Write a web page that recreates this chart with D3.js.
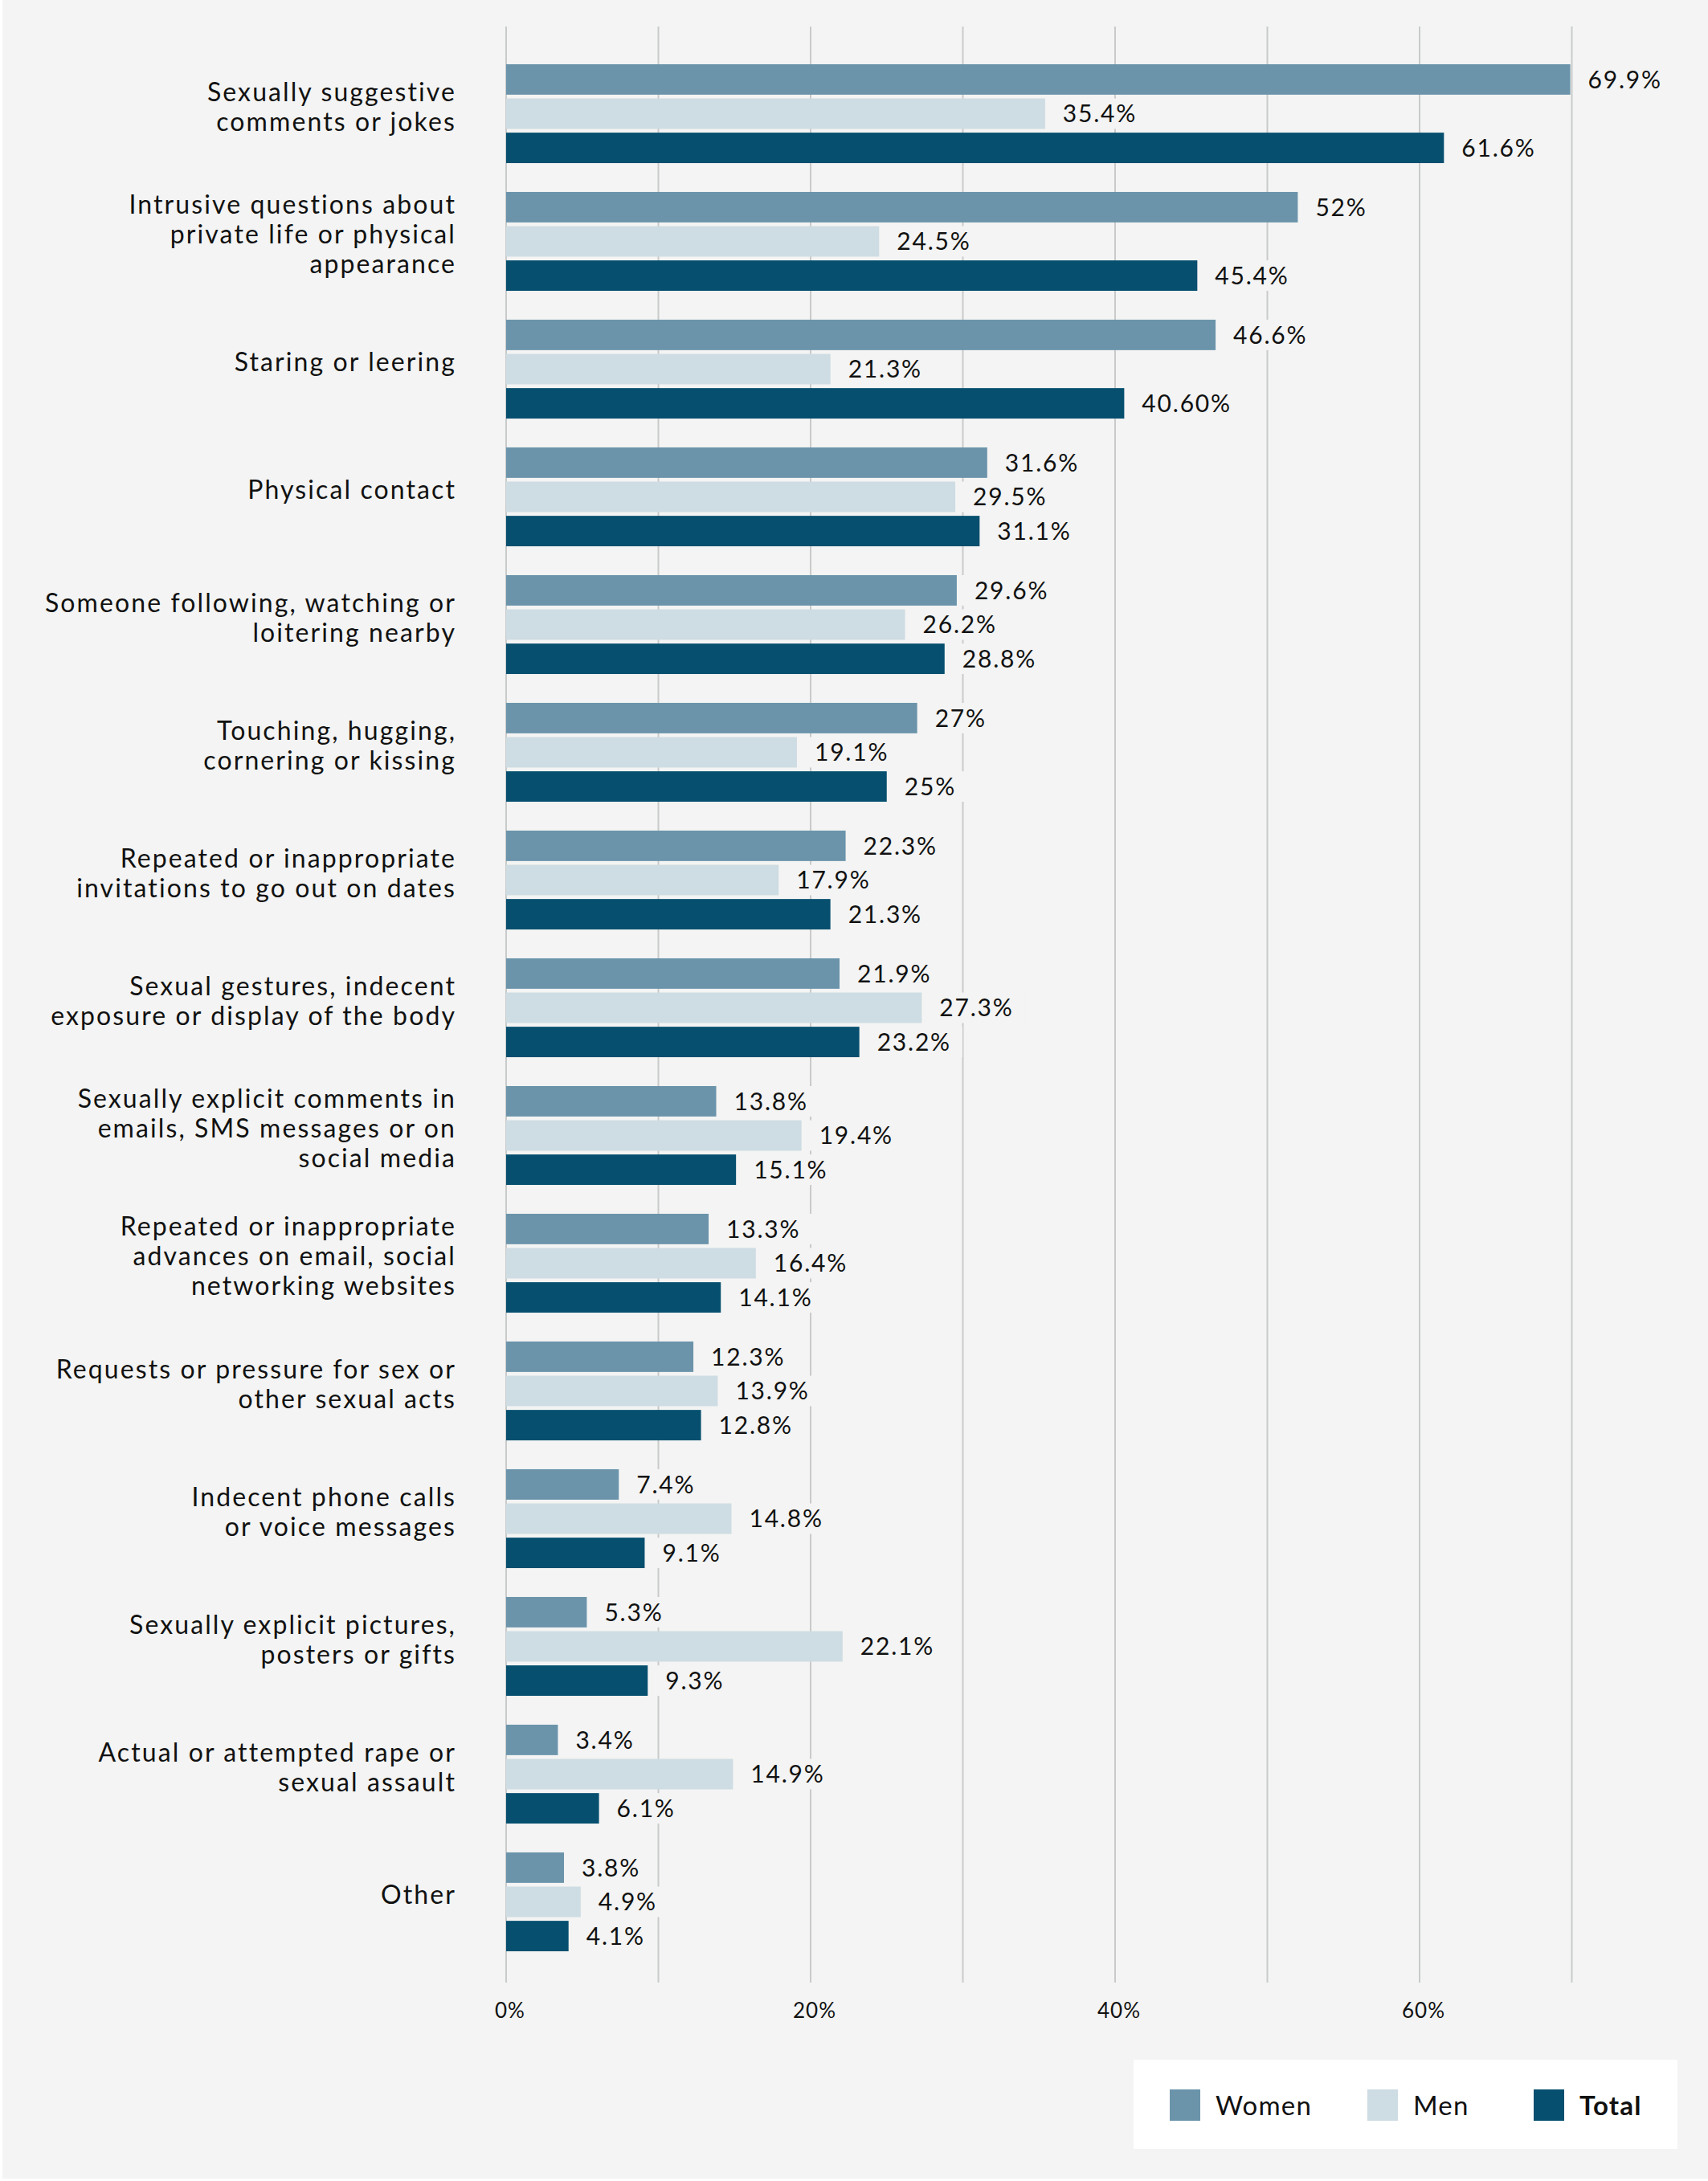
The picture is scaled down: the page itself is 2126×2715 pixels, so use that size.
<!DOCTYPE html>
<html>
<head>
<meta charset="utf-8">
<script src="https://cdn.jsdelivr.net/npm/d3@7"></script>
<style>
  body { margin: 0; background: #ffffff; }
  svg { display: block; }
  text { font-family: Lato, "Open Sans", sans-serif; fill: #111; }
</style>
</head>
<body>
<svg id="chart" width="2126" height="2715"></svg>
<script>
// categories, one entry per group (line breaks as in the source picture)
const categories = [
  ["Sexually suggestive", "comments or jokes"],
  ["Intrusive questions about", "private life or physical", "appearance"],
  ["Staring or leering"],
  ["Physical contact"],
  ["Someone following, watching or", "loitering nearby"],
  ["Touching, hugging,", "cornering or kissing"],
  ["Repeated or inappropriate", "invitations to go out on dates"],
  ["Sexual gestures, indecent", "exposure or display of the body"],
  ["Sexually explicit comments in", "emails, SMS messages or on", "social media"],
  ["Repeated or inappropriate", "advances on email, social", "networking websites"],
  ["Requests or pressure for sex or", "other sexual acts"],
  ["Indecent phone calls", "or voice messages"],
  ["Sexually explicit pictures,", "posters or gifts"],
  ["Actual or attempted rape or", "sexual assault"],
  ["Other"]
]

const women = [69.9, 52, 46.6, 31.6, 29.6, 27, 22.3, 21.9, 13.8, 13.3, 12.3, 7.4, 5.3, 3.4, 3.8]
const men   = [35.4, 24.5, 21.3, 29.5, 26.2, 19.1, 17.9, 27.3, 19.4, 16.4, 13.9, 14.8, 22.1, 14.9, 4.9]
const total = [61.6, 45.4, 40.6, 31.1, 28.8, 25, 21.3, 23.2, 15.1, 14.1, 12.8, 9.1, 9.3, 6.1, 4.1]
// printed labels (one total is printed with two decimals)
const totalLabels = ["61.6%", "45.4%", "40.60%", "31.1%", "28.8%", "25%", "21.3%", "23.2%", "15.1%", "14.1%", "12.8%", "9.1%", "9.3%", "6.1%", "4.1%"]

const seriesNames = ["Women", "Men", "Total"]
const seriesColors = ["#6b94ab", "#cedce3", "#064f6f"]
const gridTicks = [0, 10, 20, 30, 40, 50, 60, 70]
const tickLabels = [0, 20, 40, 60]

const BG = "#f3f4f3"
const svg = d3.select("#chart")

svg.append("rect")
  .attr("x", 3).attr("y", 0)
  .attr("width", 2123).attr("height", 2712)
  .attr("fill", BG)

const idx = d3.range(categories.length)

const x = d3.scaleLinear().domain([0, 70]).range([630, 1956.5])
const y = d3.scaleBand().domain(idx).range([62, 62 + 159 * 15]).paddingInner(0.226).paddingOuter(0.113)
const ySub = d3.scaleBand().domain(seriesNames).range([0, y.bandwidth()]).paddingInner(0.11)
const color = d3.scaleOrdinal().domain(seriesNames).range(seriesColors)

// grid
svg.append("g").selectAll("line")
  .data(gridTicks)
  .join("line")
  .attr("x1", d => x(d)).attr("x2", d => x(d))
  .attr("y1", 33).attr("y2", 2468)
  .attr("stroke", "#c9cbcb")
  .attr("stroke-width", 2)

// x tick labels
svg.append("g").selectAll("text")
  .data(tickLabels)
  .join("text")
  .attr("x", d => x(d) + 5)
  .attr("y", 2512)
  .attr("text-anchor", "middle")
  .attr("font-size", 26)
  .attr("letter-spacing", 1)
  .text(d => d + "%")

// flatten into bar records
const bars = []
idx.forEach(i => {
  bars.push({ i, s: "Women", v: women[i], label: women[i] + "%" })
  bars.push({ i, s: "Men", v: men[i], label: men[i] + "%" })
  bars.push({ i, s: "Total", v: total[i], label: totalLabels[i] })
})

const labelPad = 22
const labelFont = 30

// label backgrounds (hide grid behind value labels)
const bgG = svg.append("g")
const barG = svg.append("g")
const txtG = svg.append("g")

const labels = txtG.selectAll("text")
  .data(bars)
  .join("text")
  .attr("x", d => x(d.v) + labelPad)
  .attr("y", d => y(d.i) + ySub(d.s) + ySub.bandwidth() / 2)
  .attr("dy", "0.36em")
  .attr("font-size", labelFont)
  .attr("letter-spacing", 1.8)
  .text(d => d.label)

labels.each(function(d) {
  const w = this.getComputedTextLength()
  bgG.append("rect")
    .attr("x", x(d.v) + 4)
    .attr("y", y(d.i) + ySub(d.s))
    .attr("width", w + labelPad + 10)
    .attr("height", ySub.bandwidth())
    .attr("fill", BG)
})

barG.selectAll("rect")
  .data(bars)
  .join("rect")
  .attr("x", x(0))
  .attr("y", d => y(d.i) + ySub(d.s))
  .attr("width", d => x(d.v) - x(0))
  .attr("height", ySub.bandwidth())
  .attr("fill", d => color(d.s))

// category labels
const lineH = 37
const catG = svg.append("g")
idx.forEach(i => {
  const lines = categories[i]
  const cy = y(i) + y.bandwidth() / 2 - 9
  const t = catG.append("text")
    .attr("x", 568)
    .attr("text-anchor", "end")
    .attr("font-size", 32)
    .attr("letter-spacing", 2.1)
  lines.forEach((ln, k) => {
    t.append("tspan")
      .attr("x", 568)
      .attr("y", cy + (k - (lines.length - 1) / 2) * lineH)
      .attr("dy", "0.36em")
      .text(ln)
  })
})

// legend
const lg = svg.append("g")
lg.append("rect")
  .attr("x", 1411).attr("y", 2564)
  .attr("width", 677).attr("height", 111)
  .attr("fill", "#ffffff")

const legendX = [1456, 1702, 1909]
seriesNames.forEach((s, k) => {
  lg.append("rect")
    .attr("x", legendX[k]).attr("y", 2601)
    .attr("width", 38).attr("height", 39)
    .attr("fill", color(s))
  lg.append("text")
    .attr("x", legendX[k] + 57)
    .attr("y", 2633)
    .attr("font-size", 33)
    .attr("letter-spacing", 1.2)
    .attr("font-weight", s === "Total" ? 700 : 400)
    .text(s)
})
</script>
</body>
</html>
